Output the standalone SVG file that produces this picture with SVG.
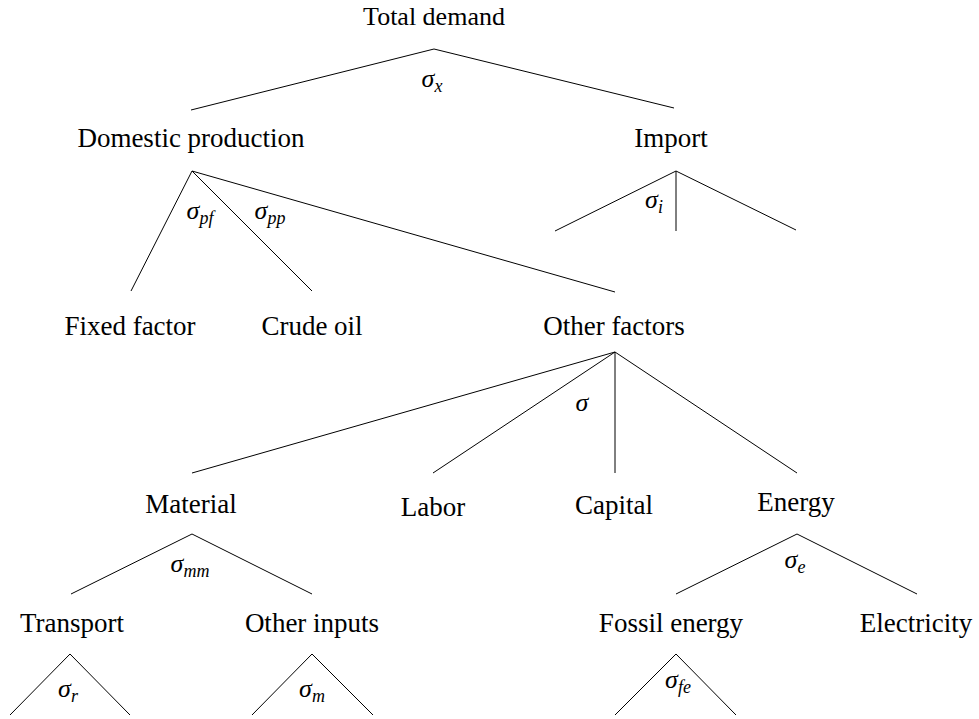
<svg xmlns="http://www.w3.org/2000/svg" width="979" height="719" viewBox="0 0 979 719">
<style>
text{fill:#000;text-anchor:middle;font-size:27px}
.top{font-size:26px}
.sig{font-style:italic;font-size:26px}
.sub{font-size:18px}
#connectors line{stroke:#000;stroke-width:1;fill:none}
</style>
<rect width="979" height="719" fill="#fff"/>
<g id="connectors">
<line x1="434" y1="49" x2="191" y2="110"/>
<line x1="434" y1="49" x2="674" y2="108"/>
<line x1="192" y1="171" x2="131" y2="291"/>
<line x1="192" y1="171" x2="312" y2="291"/>
<line x1="192" y1="171" x2="615" y2="292"/>
<line x1="676" y1="171" x2="555" y2="231"/>
<line x1="676" y1="171" x2="676" y2="231"/>
<line x1="676" y1="171" x2="796" y2="230"/>
<line x1="615" y1="352" x2="192" y2="473"/>
<line x1="615" y1="352" x2="433" y2="473"/>
<line x1="615" y1="352" x2="615" y2="473"/>
<line x1="615" y1="352" x2="797" y2="473"/>
<line x1="192" y1="534" x2="71" y2="594"/>
<line x1="192" y1="534" x2="312" y2="594"/>
<line x1="797" y1="534" x2="676" y2="594"/>
<line x1="797" y1="534" x2="917" y2="594"/>
<line x1="70" y1="654" x2="10" y2="715"/>
<line x1="70" y1="654" x2="130" y2="715"/>
<line x1="312" y1="654" x2="252" y2="715"/>
<line x1="312" y1="654" x2="373" y2="715"/>
<line x1="676" y1="654" x2="615" y2="715"/>
<line x1="676" y1="654" x2="736" y2="715"/>
</g>
<g id="total-demand"><text font-family="Liberation Serif" class="top" x="434" y="25">Total demand</text><text font-family="Liberation Serif" class="sig" x="432" y="87">σ<tspan class="sub" dy="5">x</tspan></text></g>
<g id="domestic-production"><text font-family="Liberation Serif" x="191" y="147">Domestic production</text><text font-family="Liberation Serif" class="sig" x="200" y="219">σ<tspan class="sub" dy="5">pf</tspan></text><text font-family="Liberation Serif" class="sig" x="270" y="219">σ<tspan class="sub" dy="5">pp</tspan></text></g>
<g id="import"><text font-family="Liberation Serif" x="671" y="147">Import</text><text font-family="Liberation Serif" class="sig" x="654" y="208">σ<tspan class="sub" dy="5">i</tspan></text></g>
<g id="fixed-factor"><text font-family="Liberation Serif" x="130" y="335">Fixed factor</text></g>
<g id="crude-oil"><text font-family="Liberation Serif" x="312" y="335">Crude oil</text></g>
<g id="other-factors"><text font-family="Liberation Serif" x="614" y="335">Other factors</text><text font-family="Liberation Serif" class="sig" x="582" y="411">σ</text></g>
<g id="material"><text font-family="Liberation Serif" x="191" y="513">Material</text><text font-family="Liberation Serif" class="sig" x="190" y="572">σ<tspan class="sub" dy="5">mm</tspan></text></g>
<g id="labor"><text font-family="Liberation Serif" x="433" y="516">Labor</text></g>
<g id="capital"><text font-family="Liberation Serif" x="614" y="514">Capital</text></g>
<g id="energy"><text font-family="Liberation Serif" x="796" y="511">Energy</text><text font-family="Liberation Serif" class="sig" x="795" y="568">σ<tspan class="sub" dy="5">e</tspan></text></g>
<g id="transport"><text font-family="Liberation Serif" x="72" y="632">Transport</text><text font-family="Liberation Serif" class="sig" x="68" y="697">σ<tspan class="sub" dy="5">r</tspan></text></g>
<g id="other-inputs"><text font-family="Liberation Serif" x="312" y="632">Other inputs</text><text font-family="Liberation Serif" class="sig" x="312" y="697">σ<tspan class="sub" dy="5">m</tspan></text></g>
<g id="fossil-energy"><text font-family="Liberation Serif" x="671" y="632">Fossil energy</text><text font-family="Liberation Serif" class="sig" x="678" y="688">σ<tspan class="sub" dy="5">fe</tspan></text></g>
<g id="electricity"><text font-family="Liberation Serif" x="916" y="632">Electricity</text></g>
</svg>
